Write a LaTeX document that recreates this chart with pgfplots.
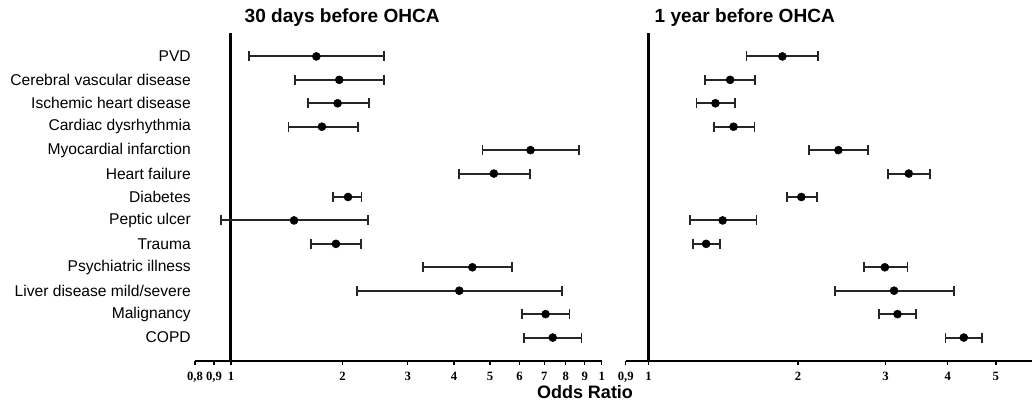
\documentclass[border=0pt]{standalone}
\usepackage{pgfplots}
\pgfplotsset{compat=1.18}
\usepackage{pgfplotstable}
\usepackage{fontspec}
\setmainfont{Liberation Sans}
\newfontfamily\seriffont{Liberation Serif}

\pgfplotstableread{
row or lo hi
13 1.70 1.12 2.59
12 1.96 1.49 2.59
11 1.94 1.61 2.36
10 1.76 1.43 2.20
9 6.43 4.77 8.67
8 5.12 4.13 6.41
7 2.07 1.89 2.25
6 1.48 0.94 2.34
5 1.92 1.64 2.24
4 4.48 3.30 5.72
3 4.13 2.19 7.80
2 7.06 6.11 8.19
1 7.38 6.17 8.82
}\leftdata

\pgfplotstableread{
row or lo hi
13 1.86 1.575 2.19
12 1.46 1.30 1.64
11 1.364 1.249 1.496
10 1.483 1.353 1.634
9 2.41 2.10 2.76
8 3.34 3.03 3.68
7 2.03 1.90 2.18
6 1.41 1.21 1.65
5 1.306 1.228 1.392
4 2.99 2.71 3.32
3 3.12 2.37 4.12
2 3.17 2.91 3.46
1 4.31 3.96 4.69
}\rightdata

\pgfplotsset{
  every axis/.append style={
    scale only axis,
    height=246pt,
    xmode=log,
    ymin=0, ymax=14,
    clip=false,
    axis x line=bottom,
    axis y line=left,
    x axis line style={-, line width=1.5pt, black},
    y axis line style={draw=none},
    ytick style={draw=none},
    xtick style={line width=1pt, black},
    tick align=outside,
    major tick length=3pt,
    xminorticks=false,
    xticklabel style={font=\seriffont\bfseries\fontsize{9.5}{10}\selectfont, inner sep=1pt, yshift=-4pt},
  },
}

\begin{document}
\begin{tikzpicture}
\useasboundingbox (0,0) rectangle (774pt,304.5pt);

\begin{axis}[
  at={(146.25pt,33.75pt)}, anchor=south west,
  width=305pt,
  xmin=0.8, xmax=10,
  xtick={0.8,0.9,1,2,3,4,5,6,7,8,9,10},
  xticklabels={{0,8},{0,9},1,2,3,4,5,6,7,8,9,1},
  ytick={1,2,3,4,5,6,7,8,9,10,11,12,13},
  yticklabels={COPD, Malignancy, Liver disease mild/severe, Psychiatric illness, Trauma, Peptic ulcer, Diabetes, Heart failure, Myocardial infarction, Cardiac dysrhythmia, Ischemic heart disease, Cerebral vascular disease, PVD},
  yticklabel style={font=\fontsize{11.7}{13}\selectfont, inner sep=0pt, anchor=east},
]
\addplot[line width=2.25pt, black] coordinates {(1,0) (1,14)};
\addplot[only marks, mark=*, mark size=3pt, black,
    error bars/.cd, x dir=both, x explicit, error mark=|,
    error bar style={line width=1.5pt, color=black!85},
    error mark options={line width=1.4pt, color=black!85, mark size=3.75pt}]
  table[x=or, y=row, x error plus expr=\thisrow{hi}-\thisrow{or}, x error minus expr=\thisrow{or}-\thisrow{lo}] {\leftdata};
\end{axis}

\begin{axis}[
  at={(469.3pt,33.75pt)}, anchor=south west,
  width=307.1pt,
  xmin=0.9, xmax=6,
  xtick={0.9,1,2,3,4,5,6},
  xticklabels={{0,9},1,2,3,4,5,6},
  ytick=\empty,
]
\addplot[line width=2.25pt, black] coordinates {(1,0) (1,14)};
\addplot[only marks, mark=*, mark size=3pt, black,
    error bars/.cd, x dir=both, x explicit, error mark=|,
    error bar style={line width=1.5pt, color=black!85},
    error mark options={line width=1.4pt, color=black!85, mark size=3.75pt}]
  table[x=or, y=row, x error plus expr=\thisrow{hi}-\thisrow{or}, x error minus expr=\thisrow{or}-\thisrow{lo}] {\rightdata};
\end{axis}

\node[anchor=base west, font=\bfseries\fontsize{14.3}{16}\selectfont] at (180pt,287.25pt) {30 days before OHCA};
\node[anchor=base west, font=\bfseries\fontsize{14.3}{16}\selectfont] at (487.5pt,287.25pt) {1 year before OHCA};
\node[anchor=base, font=\bfseries\fontsize{13.5}{15}\selectfont] at (438.75pt,5.25pt) {Odds Ratio};
\end{tikzpicture}
\end{document}
